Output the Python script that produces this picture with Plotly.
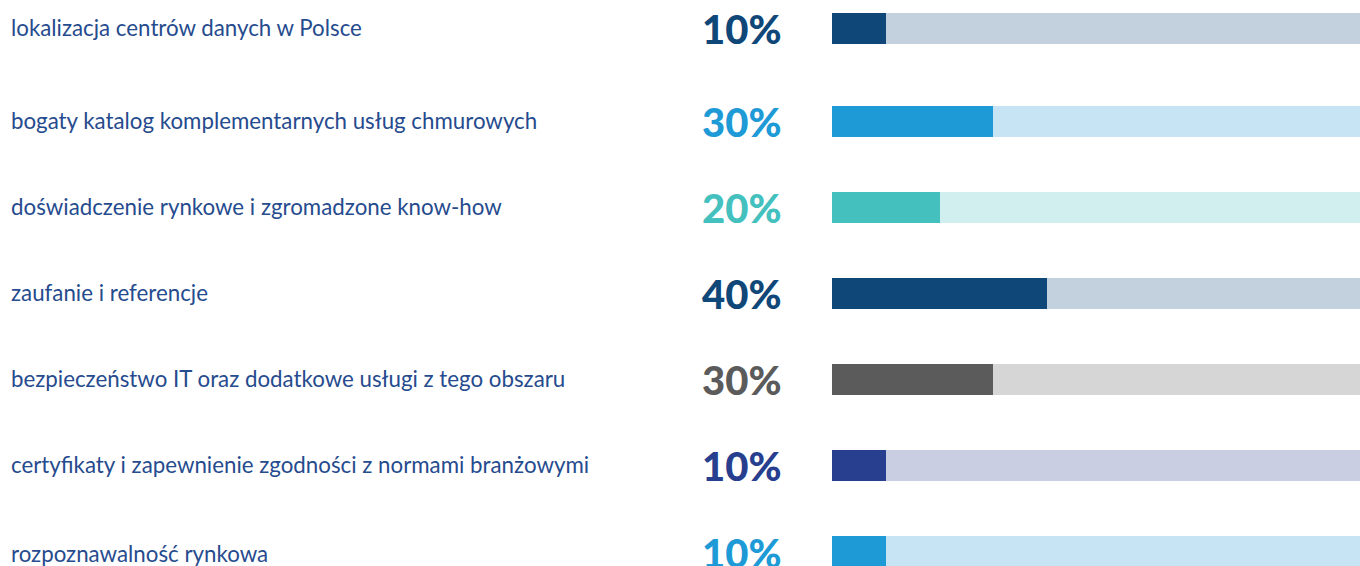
import plotly.graph_objects as go

# Survey answers: share of respondents per factor
factors = [
    "lokalizacja centrów danych w Polsce",
    "bogaty katalog komplementarnych usług chmurowych",
    "doświadczenie rynkowe i zgromadzone know-how",
    "zaufanie i referencje",
    "bezpieczeństwo IT oraz dodatkowe usługi z tego obszaru",
    "certyfikaty i zapewnienie zgodności z normami branżowymi",
    "rozpoznawalność rynkowa",
]
shares = [10, 30, 20, 40, 30, 10, 10]
full_scale = [100] * len(factors)

# Styling: strong colour for the value, pale tint for the remaining track
bar_colors = ["#0f4779", "#1e9ad6", "#44c1be", "#0f4779", "#5b5b5b", "#273f8e", "#1e9ad6"]
track_colors = ["#c3d1de", "#c7e4f5", "#d1efee", "#c3d1de", "#d6d6d6", "#c9cee3", "#c7e4f5"]
label_color = "#264b8e"

W, H = 1360, 566
BAR_LEFT_PX = 832          # where the bar column starts
PX_PER_100 = 538           # width of a full 100% track
FIRST_ROW_SHIFT = -0.081   # first row sits a bit higher than the regular grid
rows = [i + (FIRST_ROW_SHIFT if i == 0 else 0) for i in range(len(factors))]

fig = go.Figure()
fig.add_trace(go.Bar(
    x=full_scale, y=rows, orientation="h", width=0.36,
    marker=dict(color=track_colors, line=dict(width=0)),
    hoverinfo="skip", showlegend=False,
))
fig.add_trace(go.Bar(
    x=shares, y=rows, orientation="h", width=0.36,
    marker=dict(color=bar_colors, line=dict(width=0)),
    customdata=factors,
    hovertemplate="%{customdata}: %{x}%<extra></extra>",
    showlegend=False,
))

last = len(factors) - 1
for i, (r, name, val, col) in enumerate(zip(rows, factors, shares, bar_colors)):
    fig.add_annotation(
        x=9 / W, xref="paper", y=r, yref="y", yshift=(-2 if i == last else 1),
        xanchor="left", yanchor="middle",
        text=name, showarrow=False,
        font=dict(family="Lato", size=22.3, color=label_color),
    )
    fig.add_annotation(
        x=742 / W, xref="paper", y=r, yref="y", yshift=(-1 if i == last else 0),
        xanchor="center", yanchor="middle",
        text=f"{val}%", showarrow=False,
        font=dict(family="Lato", size=40, color=col, weight=900),
    )

fig.update_layout(
    width=W, height=H,
    margin=dict(l=0, r=0, t=0, b=0),
    paper_bgcolor="white", plot_bgcolor="white",
    barmode="overlay", bargap=0,
    xaxis=dict(
        domain=[BAR_LEFT_PX / W, 1],
        range=[0, 100 * (W - BAR_LEFT_PX) / PX_PER_100],
        visible=False, fixedrange=True,
    ),
    yaxis=dict(
        range=[(H - 35.5) / 86, -35.5 / 86],
        visible=False, fixedrange=True,
    ),
)

fig.write_html("out.html", config={"displayModeBar": False})
